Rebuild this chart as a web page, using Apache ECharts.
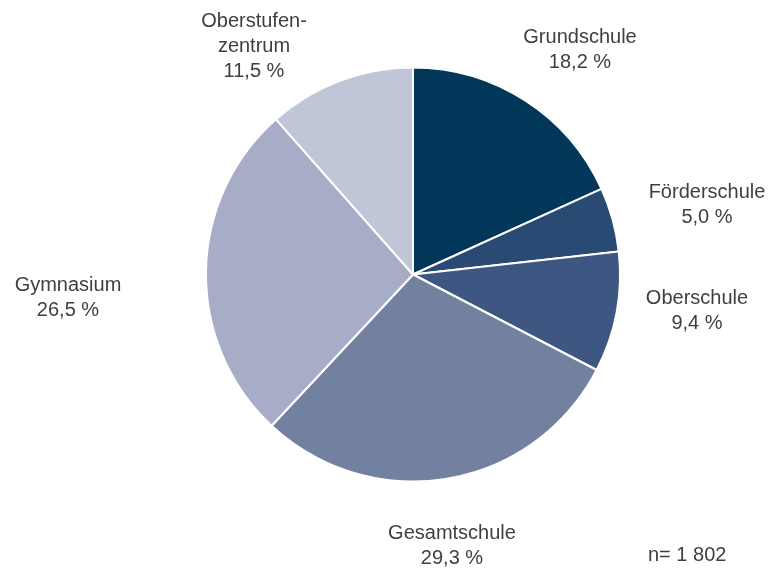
<!DOCTYPE html>
<html>
<head>
<meta charset="utf-8">
<style>
  html, body { margin: 0; padding: 0; background: #fff; }
  #chart { width: 772px; height: 568px; }
</style>
<script src="https://cdn.jsdelivr.net/npm/echarts@6/dist/echarts.min.js"></script>
</head>
<body>
<div id="chart"></div>
<script>
// Schulform-Anteile (in %)
var categories = ["Grundschule", "Förderschule", "Oberschule", "Gesamtschule", "Gymnasium", "Oberstufen-\nzentrum"];
var values = [18.2, 5.0, 9.4, 29.3, 26.5, 11.5];
var colors = ["#02375a", "#284a73", "#3e5782", "#72819f", "#a8adc7", "#c0c6d7"];
var sampleNote = "n= 1 802";

// label centres, per slice (same order as categories)
var labelPos = [[580, 50], [707, 205], [697, 311], [452, 546], [68, 298], [254, 46]];

var pieData = categories.map(function (name, i) {
  return { name: name, value: values[i], itemStyle: { color: colors[i] } };
});

var myChart = echarts.init(document.getElementById("chart"));
var option = {
  animation: false,
  title: {
    text: sampleNote,
    left: 648,
    top: 545,
    padding: 0,
    textStyle: {
      fontFamily: "Liberation Sans",
      fontSize: 20,
      fontWeight: "normal",
      color: "#3f3f3f"
    }
  },
  series: [
    {
      type: "pie",
      center: [413, 274.5],
      radius: 207,
      startAngle: 90,
      clockwise: true,
      data: pieData,
      itemStyle: {
        borderColor: "#ffffff",
        borderWidth: 2
      },
      label: {
        show: true,
        position: "outside",
        overflow: "none",
        width: 200,
        fontFamily: "Liberation Sans",
        fontSize: 20,
        lineHeight: 25,
        color: "#3f3f3f",
        align: "center",
        formatter: function (p) {
          return p.name + "\n" + p.value.toFixed(1).replace(".", ",") + " %";
        }
      },
      labelLine: { show: false },
      labelLayout: function (params) {
        var pos = labelPos[params.dataIndex];
        return {
          x: pos[0],
          y: pos[1],
          align: "center",
          verticalAlign: "middle"
        };
      },
      emphasis: { disabled: true }
    }
  ]
};
myChart.setOption(option);
window.addEventListener("resize", function () {
  myChart.resize();
});
</script>
</body>
</html>
